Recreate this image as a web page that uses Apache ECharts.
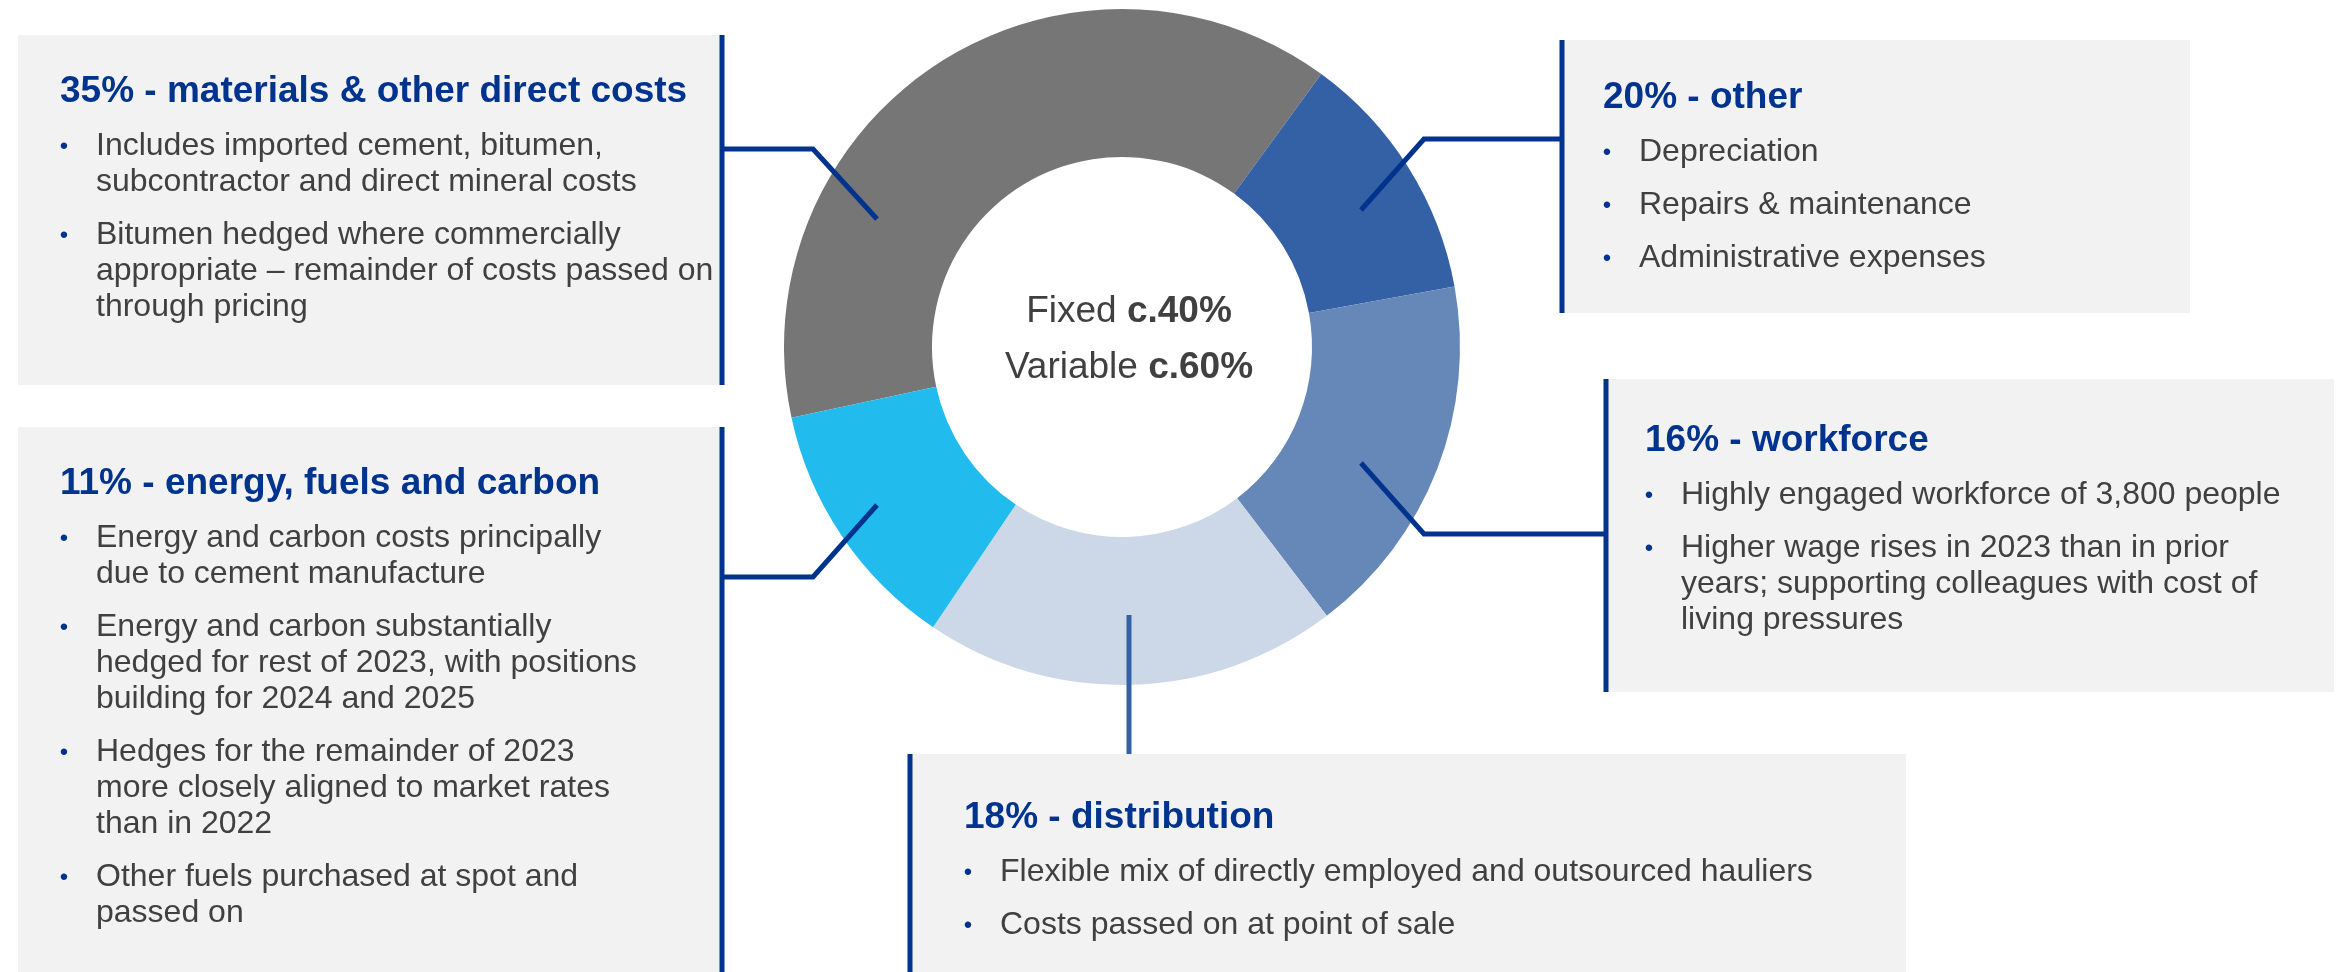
<!DOCTYPE html>
<html>
<head>
<meta charset="utf-8">
<title>Cost base</title>
<script src="https://cdn.jsdelivr.net/npm/echarts@6/dist/echarts.min.js"></script>
<style>
  html, body { margin: 0; padding: 0; background: #ffffff; }
  #costChart { width: 2341px; height: 972px; }
</style>
</head>
<body>
<div id="costChart"></div>
<script>
// slice shares as drawn on the ring (clockwise from the grey slice), %
var categories = ['materials & other direct costs', 'other', 'workforce', 'distribution', 'energy, fuels and carbon']
var shares = [38.4, 12.1, 17.5, 19.8, 12.2]

// headings printed in the call-out boxes (same order as categories)
var headings = [
  '35% - materials & other direct costs',
  '20% - other',
  '16% - workforce',
  '18% - distribution',
  '11% - energy, fuels and carbon'
]

// bullet points, each bullet split into its printed lines
var bullets = [
  [
    ['Includes imported cement, bitumen,', 'subcontractor and direct mineral costs'],
    ['Bitumen hedged where commercially', 'appropriate \u2013 remainder of costs passed on', 'through pricing']
  ],
  [
    ['Depreciation'],
    ['Repairs & maintenance'],
    ['Administrative expenses']
  ],
  [
    ['Highly engaged workforce of 3,800 people'],
    ['Higher wage rises in 2023 than in prior', 'years; supporting colleagues with cost of', 'living pressures']
  ],
  [
    ['Flexible mix of directly employed and outsourced hauliers'],
    ['Costs passed on at point of sale']
  ],
  [
    ['Energy and carbon costs principally', 'due to cement manufacture'],
    ['Energy and carbon substantially', 'hedged for rest of 2023, with positions', 'building for 2024 and 2025'],
    ['Hedges for the remainder of 2023', 'more closely aligned to market rates', 'than in 2022'],
    ['Other fuels purchased at spot and', 'passed on']
  ]
]

// centre label: [plain part, bold part]
var centreLabels = [['Fixed ', 'c.40%'], ['Variable ', 'c.60%']]

// ---- styling / layout ----
var sliceColors = ['#767676', '#3461a5', '#6688b9', '#ccd8e8', '#22bbee']
var FONT = '"Liberation Sans", Arial, sans-serif'
var NAVY = '#00338d'
var TEXT = '#404040'
var BOX_BG = '#f2f2f2'

// box rect [x, y, w, h], x of the blue edge line, heading position
var boxes = [
  { rect: [18, 35, 704, 350], lineX: 722, titleX: 60, titleY: 100 },
  { rect: [1562, 40, 628, 273], lineX: 1562, titleX: 1603, titleY: 106 },
  { rect: [1606, 379, 728, 313], lineX: 1606, titleX: 1645, titleY: 449 },
  { rect: [910, 754, 996, 218], lineX: 910, titleX: 964, titleY: 826 },
  { rect: [18, 427, 704, 545], lineX: 722, titleX: 60, titleY: 492 }
]
var connectors = [
  { points: [[722, 149], [813, 149], [877, 219]], color: NAVY },
  { points: [[1562, 139], [1424, 139], [1361, 210]], color: NAVY },
  { points: [[1606, 534], [1424, 534], [1361, 463]], color: NAVY },
  { points: [[1129, 615], [1129, 754]], color: '#3461a5' },
  { points: [[722, 577], [813, 577], [877, 505]], color: NAVY }
]

// y for a 'middle' aligned text whose alphabetic baseline should land at `baseline`
function mid(baseline, size) {
  return baseline - 0.3465 * size + 4.5
}

function buildGraphic() {
  var els = []
  boxes.forEach(function (b, i) {
    els.push({
      type: 'rect', z: 5, silent: true,
      shape: { x: b.rect[0], y: b.rect[1], width: b.rect[2], height: b.rect[3] },
      style: { fill: BOX_BG }
    })
    els.push({
      type: 'line', z: 20, silent: true,
      shape: { x1: b.lineX, y1: b.rect[1], x2: b.lineX, y2: b.rect[1] + b.rect[3] },
      style: { stroke: NAVY, lineWidth: 5 }
    })
    els.push({
      type: 'text', z: 21, silent: true,
      x: b.titleX, y: mid(b.titleY, 37),
      style: { text: headings[i], font: 'bold 37px ' + FONT, fill: NAVY, align: 'left', verticalAlign: 'middle' }
    })
    var y = b.titleY
    bullets[i].forEach(function (item) {
      item.forEach(function (line, k) {
        y += k === 0 ? 53 : 36
        if (k === 0) {
          els.push({
            type: 'text', z: 21, silent: true,
            x: b.titleX + 4, y: mid(y, 32) + 1,
            style: { text: '\u2022', font: '24px ' + FONT, fill: NAVY, align: 'center', verticalAlign: 'middle' }
          })
        }
        els.push({
          type: 'text', z: 21, silent: true,
          x: b.titleX + 36, y: mid(y, 32),
          style: { text: line, font: '32px ' + FONT, fill: TEXT, align: 'left', verticalAlign: 'middle' }
        })
      })
    })
  })
  connectors.forEach(function (c) {
    els.push({
      type: 'polyline', z: 22, silent: true,
      shape: { points: c.points },
      style: { stroke: c.color, lineWidth: 5, fill: null, lineJoin: 'miter' }
    })
  })
  centreLabels.forEach(function (lbl, i) {
    els.push({
      type: 'text', z: 21, silent: true,
      x: 1129, y: mid(320 + i * 56, 37),
      style: {
        text: '{a|' + lbl[0] + '}{b|' + lbl[1] + '}',
        align: 'center', verticalAlign: 'middle',
        rich: {
          a: { font: '37px ' + FONT, fill: TEXT },
          b: { font: 'bold 37px ' + FONT, fill: TEXT }
        }
      }
    })
  })
  return els
}

var myChart = echarts.init(document.getElementById('costChart'))
var pieData = []
for (var i = 0; i < categories.length; i++) {
  pieData.push({ name: categories[i], value: shares[i], itemStyle: { color: sliceColors[i] } })
}
var option = {
  animation: false,
  backgroundColor: '#ffffff',
  series: [
    {
      type: 'pie',
      center: [1122, 347],
      radius: [190, 338],
      startAngle: 192.1,
      clockwise: true,
      silent: true,
      label: { show: false },
      labelLine: { show: false },
      itemStyle: { borderWidth: 0 },
      data: pieData
    }
  ],
  graphic: { elements: buildGraphic() }
}
myChart.setOption(option)
</script>
</body>
</html>
